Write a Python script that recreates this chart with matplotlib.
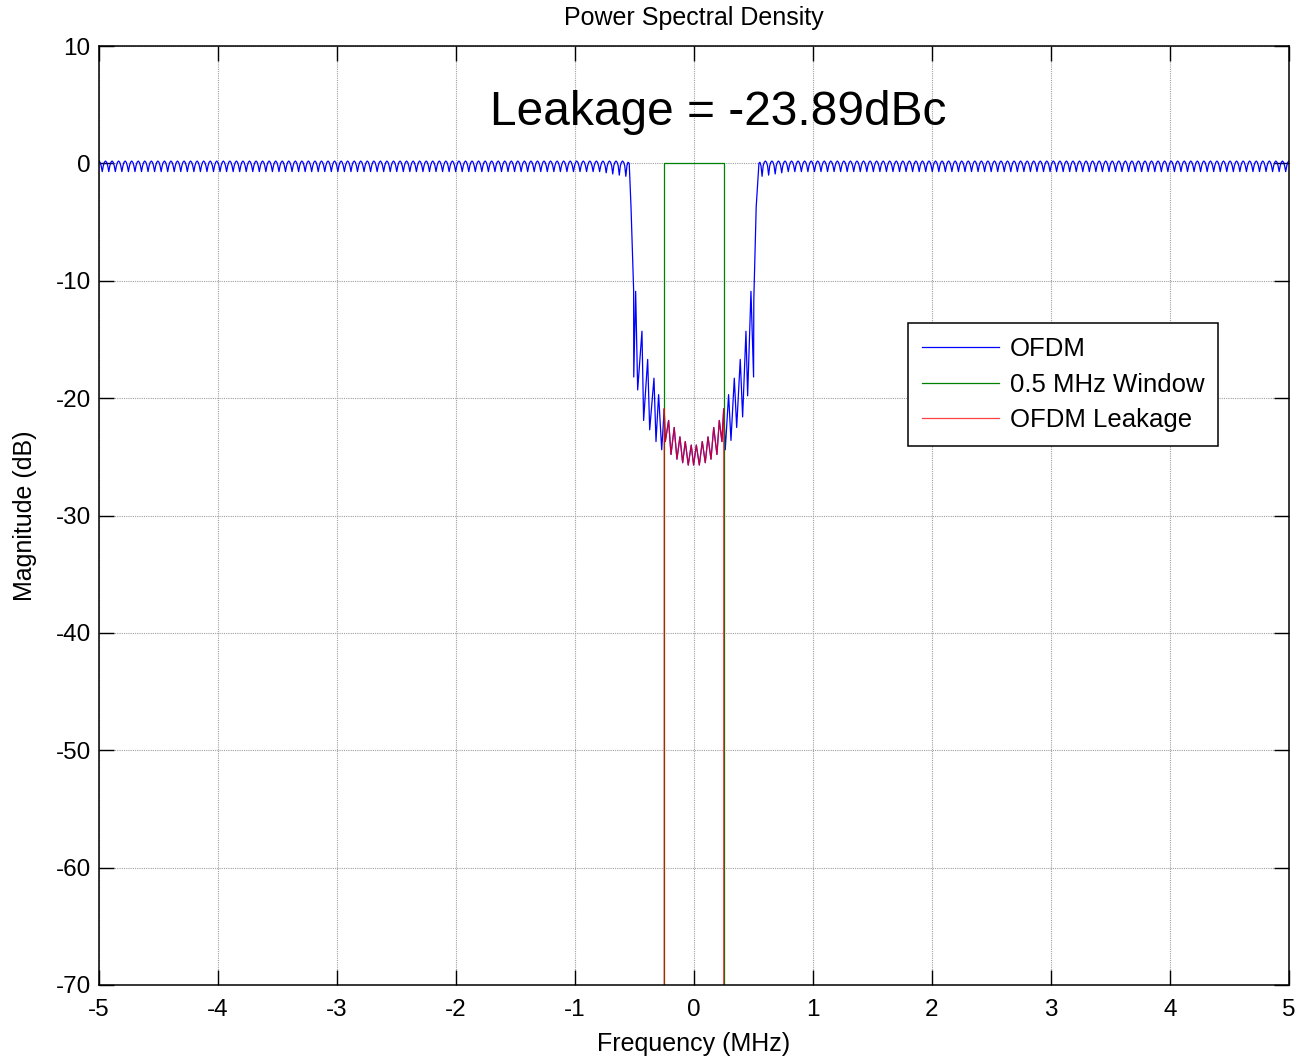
import numpy as np
import matplotlib.pyplot as plt

plt.rcParams['font.family'] = ['Liberation Sans', 'DejaVu Sans']
plt.rcParams['axes.unicode_minus'] = False

ripple_cycle = [0.2, 0.1, -0.2, -0.7, -0.2, 0.1]
ripple_period = 0.055         # MHz
band_edge = 0.56              # MHz, where the flat ripple stops
edge_dips = [-0.8, -0.9, -1.0, -1.1]   # last troughs before the notch get deeper

# notch, left flank (outside the window)
notch_left_f = [-0.544, -0.529, -0.507, -0.506, -0.490, -0.473, -0.437, -0.423,
                -0.389, -0.372, -0.336, -0.319, -0.297, -0.271]
notch_left_db = [0.0, -3.7, -10.8, -18.2, -10.9, -19.3, -14.3, -21.9,
                 -16.7, -22.7, -18.3, -23.7, -19.7, -24.4]

# inside the 0.5 MHz window
center_f = [-0.250, -0.241, -0.213, -0.193, -0.166, -0.143, -0.118, -0.095,
            -0.073, -0.048, -0.023, -0.003, 0.020, 0.045, 0.070, 0.095,
            0.118, 0.143, 0.166, 0.193, 0.213, 0.235, 0.250]
center_db = [-20.9, -23.7, -21.9, -24.8, -22.5, -25.2, -23.3, -25.5,
             -23.7, -25.7, -24.0, -25.7, -24.0, -25.7, -23.7, -25.5,
             -23.3, -25.2, -22.5, -24.8, -21.9, -23.7, -20.9]

# notch, right flank
notch_right_f = [0.263, 0.291, 0.311, 0.339, 0.359, 0.389, 0.409, 0.437,
                 0.451, 0.479, 0.501, 0.503, 0.523, 0.546]
notch_right_db = [-24.4, -19.7, -23.6, -18.3, -22.5, -16.7, -21.6, -14.3,
                  -19.8, -10.9, -18.2, -11.6, -3.7, 0.0]

win_lo, win_hi = -0.25, 0.25
floor_db = -300.0
leakage_dbc = -23.89

# build the flat ripple bands
n_cyc = int(round((5 - band_edge) / ripple_period))
step = ripple_period / len(ripple_cycle)
f_left = -5 + np.arange(n_cyc * len(ripple_cycle)) * step
db_left = np.tile(ripple_cycle, n_cyc).astype(float)
for k, d in enumerate(edge_dips):
    idx = (n_cyc - len(edge_dips) + k) * len(ripple_cycle) + 3
    db_left[idx] = d
f_right = -f_left[::-1]
db_right = db_left[::-1]

ofdm_f = np.concatenate([f_left, notch_left_f, center_f, notch_right_f, f_right])
ofdm_db = np.concatenate([db_left, notch_left_db, center_db, notch_right_db, db_right])

win_f = [-5, win_lo, win_lo, win_hi, win_hi, 5]
win_db = [floor_db, floor_db, 0, 0, floor_db, floor_db]

leak_f = [-5, win_lo] + center_f + [win_hi, 5]
leak_db = [floor_db, floor_db] + center_db + [floor_db, floor_db]

fig = plt.figure(figsize=(12.97, 10.58), dpi=100)
ax = fig.add_axes([0.0763, 0.069, 0.9175, 0.8875])

ax.plot(ofdm_f, ofdm_db, color='#0000ff', lw=0.9, label='OFDM')
ax.plot(win_f, win_db, color='#008000', lw=0.9, label='0.5 MHz Window')
ax.plot(leak_f, leak_db, color='#ff0000', lw=0.9, alpha=0.75, label='OFDM Leakage')

ax.set_xlim(-5, 5)
ax.set_ylim(-70, 10)
ax.set_xticks(np.arange(-5, 6, 1))
ax.set_yticks(np.arange(-70, 11, 10))
ax.grid(True, color='#a0a0a0', linestyle=(0, (1, 1)), lw=0.8)
ax.tick_params(direction='in', length=11, width=1, top=True, right=True,
               labelsize=17.5)
ax.tick_params(axis='x', pad=10)
ax.tick_params(axis='y', pad=6)
for s in ax.spines.values():
    s.set_linewidth(1.1)

ax.set_title('Power Spectral Density', fontsize=18, pad=15)
ax.set_xlabel('Frequency (MHz)', fontsize=18, labelpad=8)
ax.set_ylabel('Magnitude (dB)', fontsize=18, labelpad=13)

ax.text(0.2, 4.3, 'Leakage = %.2fdBc' % leakage_dbc, fontsize=34.5,
        ha='center', va='center')

leg = ax.legend(loc='upper left', bbox_to_anchor=(0.68, 0.705), fontsize=18.5,
                fancybox=False, framealpha=1, edgecolor='black',
                handlelength=3.0, handletextpad=0.4, labelspacing=0.45,
                borderpad=0.55, borderaxespad=0)
leg.get_frame().set_linewidth(1.1)

fig.savefig('out.png', dpi=100)
